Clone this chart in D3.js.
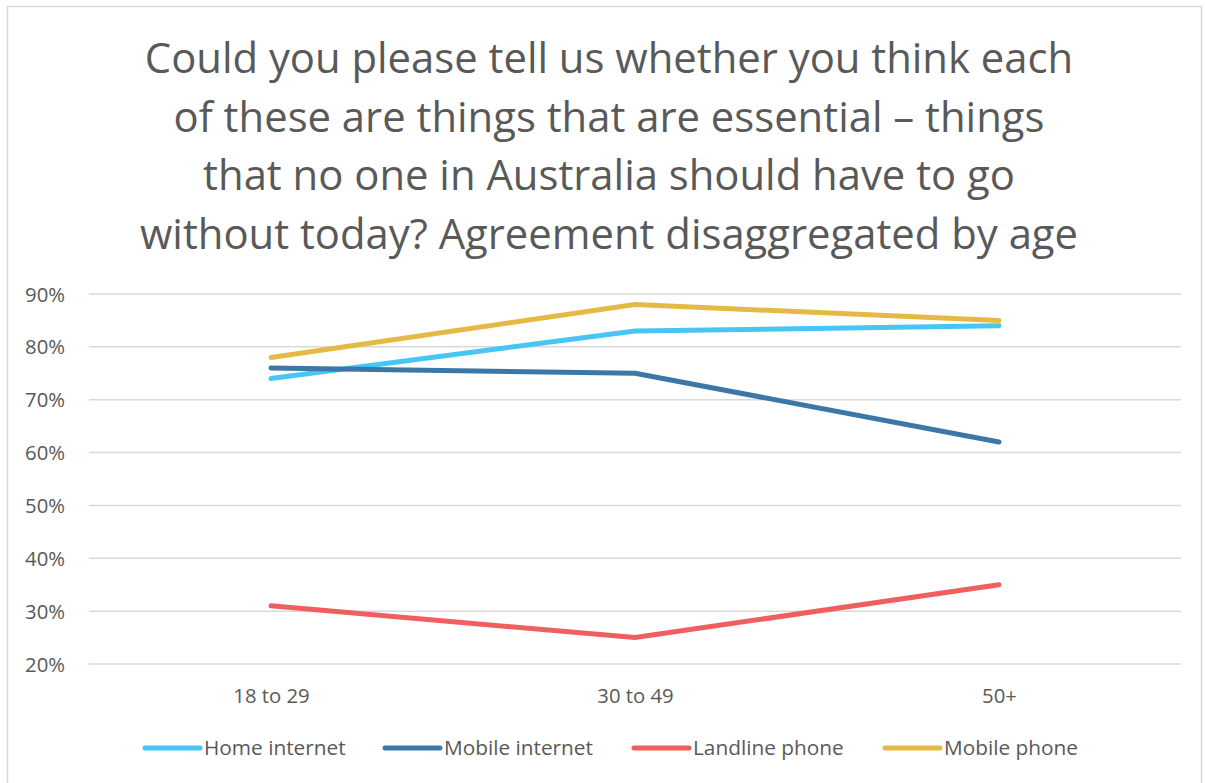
<!DOCTYPE html>
<html>
<head>
<meta charset="utf-8">
<script src="https://cdn.jsdelivr.net/npm/d3@7"></script>
<style>
  html, body { margin: 0; padding: 0; background: #fff; }
  svg { display: block; }
</style>
</head>
<body>
<svg id="chart" width="1205" height="783"></svg>
<script>
// Age groups and agreement (%) per item
const categories = ["18 to 29", "30 to 49", "50+"];
const seriesNames = ["Home internet", "Mobile internet", "Landline phone", "Mobile phone"];
const homeInternet = [74, 83, 84];
const mobileInternet = [76, 75, 62];
const landlinePhone = [31, 25, 35];
const mobilePhone = [78, 88, 85];
const yTicks = [20, 30, 40, 50, 60, 70, 80, 90];
const titleLines = [
  "Could you please tell us whether you think each",
  "of these are things that are essential \u2013 things",
  "that no one in Australia should have to go",
  "without today? Agreement disaggregated by age"
];

const colors = ["#47C5F4", "#3C77A6", "#F05F5F", "#E5BA44"];
const series = [homeInternet, mobileInternet, landlinePhone, mobilePhone].map((v, i) => ({
  name: seriesNames[i], values: v, color: colors[i]
}));

const svg = d3.select("#chart");
const textColor = "#595959";
const font = "'Open Sans', sans-serif";

// chart frame
svg.append("rect")
  .attr("x", 7.5).attr("y", 6.5)
  .attr("width", 1194).attr("height", 790)
  .attr("fill", "#fff").attr("stroke", "#d9d9d9").attr("stroke-width", 1.5);

// title
svg.append("g").selectAll("text")
  .data(titleLines).join("text")
  .attr("x", 609)
  .attr("y", (d, i) => 73 + i * 58.5)
  .attr("text-anchor", "middle")
  .attr("font-family", font)
  .attr("font-size", 41.8)
  .attr("fill", textColor)
  .text(d => d);

const x = d3.scalePoint().domain(categories).range([271, 999]);
const y = d3.scaleLinear().domain([20, 90]).range([664, 294]);
const plotLeft = 89, plotRight = 1181;

// gridlines
svg.append("g").selectAll("line")
  .data(yTicks).join("line")
  .attr("x1", plotLeft).attr("x2", plotRight)
  .attr("y1", d => y(d)).attr("y2", d => y(d))
  .attr("stroke", "#d9d9d9").attr("stroke-width", 1.5);

// y axis labels
const yAxis = svg.append("g")
  .attr("transform", `translate(${plotLeft - 24},0)`)
  .call(d3.axisLeft(y).tickValues(yTicks).tickFormat(d => d + "%").tickSize(0).tickPadding(0));
yAxis.select(".domain").remove();
yAxis.selectAll("text")
  .attr("dy", "0.35em")
  .attr("font-family", font).attr("font-size", 20.3).attr("fill", textColor);

// x axis labels
const xAxis = svg.append("g")
  .attr("transform", `translate(0,${y(20)})`)
  .call(d3.axisBottom(x).tickSize(0).tickPadding(0));
xAxis.select(".domain").remove();
xAxis.selectAll("text")
  .attr("y", 39).attr("dy", null)
  .attr("font-family", font).attr("font-size", 20.3).attr("fill", textColor);

// lines
const line = d3.line()
  .x((d, i) => x(categories[i]))
  .y(d => y(d));

svg.append("g").selectAll("path")
  .data(series).join("path")
  .attr("d", d => line(d.values))
  .attr("fill", "none")
  .attr("stroke", d => d.color)
  .attr("stroke-width", 5)
  .attr("stroke-linecap", "round")
  .attr("stroke-linejoin", "round");

// legend
const legendX = [145, 385, 634, 885];
const legend = svg.append("g").selectAll("g")
  .data(series).join("g")
  .attr("transform", (d, i) => `translate(${legendX[i]},748)`);
legend.append("line")
  .attr("x1", 0).attr("x2", 55)
  .attr("stroke", d => d.color)
  .attr("stroke-width", 5)
  .attr("stroke-linecap", "round");
legend.append("text")
  .attr("x", 59).attr("y", 7)
  .attr("font-family", font).attr("font-size", 20.8)
  .attr("fill", textColor)
  .text(d => d.name);
</script>
</body>
</html>
